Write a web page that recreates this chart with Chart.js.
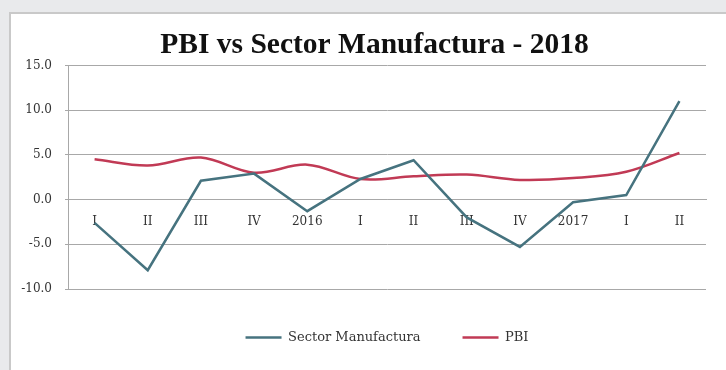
<!DOCTYPE html>
<html>
<head>
<meta charset="utf-8">
<script src="https://cdn.jsdelivr.net/npm/chart.js@4"></script>
<style>
  html, body { margin: 0; padding: 0; }
  body { width: 726px; height: 370px; background: #e9eaec; overflow: hidden; position: relative; }
  #frame {
    position: absolute; left: 9px; top: 12px; width: 727px; height: 356px;
    background: #fff; border-left: 2px solid #c9c9c9; border-top: 2px solid #c9c9c9;
  }
</style>
</head>
<body>
<div id="frame"><canvas id="pbiChart"></canvas></div>
<script>
// Quarters 2015-2017, with the year marker in the middle
const quarters = ["I", "II", "III", "IV", "2016", "I", "II", "III", "IV", "2017", "I", "II"];

// Growth rates (%)
const sectorManufactura = [-2.6, -7.9, 2.1, 2.9, -1.3, 2.3, 4.4, -2.0, -5.3, -0.3, 0.5, 11.0];
const pbi = [4.5, 3.8, 4.7, 3.0, 3.9, 2.3, 2.6, 2.8, 2.2, 2.4, 3.1, 5.2];

const titleFont = "'Liberation Serif', 'Times New Roman', serif";
const labelFont = "'DejaVu Serif', serif";

const ctx = document.getElementById('pbiChart').getContext('2d');
const chart = new Chart(ctx, {
  type: 'line',
  data: {
    labels: quarters,
    datasets: [{
      label: 'Sector Manufactura',
      data: sectorManufactura,
      borderColor: '#46737f',
      backgroundColor: '#46737f',
      borderWidth: 2.5,
      pointRadius: 0,
      tension: 0
    }, {
      label: 'PBI',
      data: pbi,
      borderColor: '#c13a55',
      backgroundColor: '#c13a55',
      borderWidth: 2.5,
      pointRadius: 0,
      tension: 0.35
    }]
  },
  options: {
    responsive: true,
    maintainAspectRatio: false,
    animation: false,
    layout: { padding: { left: 0, right: 0, top: 0, bottom: 16 } },
    plugins: {
      title: {
        display: true,
        text: 'PBI vs Sector Manufactura - 2018',
        color: '#111',
        font: { family: titleFont, size: 29.5, weight: 'bold' },
        padding: { top: 14, bottom: 2 }
      },
      legend: {
        position: 'bottom',
        fullSize: false,
        labels: {
          color: '#333',
          font: { family: labelFont, size: 13 },
          usePointStyle: true,
          pointStyle: 'line',
          pointStyleWidth: 36,
          padding: 42
        }
      },
      tooltip: { enabled: false }
    },
    scales: {
      x: {
        position: { y: 0 },
        offset: true,
        grid: { display: false },
        border: { color: '#a8a8a8' },
        ticks: {
          color: '#333',
          font: { family: labelFont, size: 12 },
          padding: 7,
          maxRotation: 0,
          autoSkip: false
        }
      },
      y: {
        min: -10,
        max: 15,
        afterFit: (scale) => { scale.width = 57; },
        grid: { color: '#a8a8a8', tickLength: 3 },
        border: { color: '#a8a8a8' },
        ticks: {
          stepSize: 5,
          color: '#333',
          padding: 13,
          font: { family: labelFont, size: 12 },
          callback: (v) => v.toFixed(1)
        }
      },
      // empty right-hand margin beside the plot
      yRight: {
        position: 'right',
        min: -10,
        max: 15,
        afterFit: (scale) => { scale.width = 32; },
        grid: { drawOnChartArea: false, display: false },
        border: { display: false },
        ticks: { display: false }
      }
    }
  }
});
</script>
</body>
</html>
